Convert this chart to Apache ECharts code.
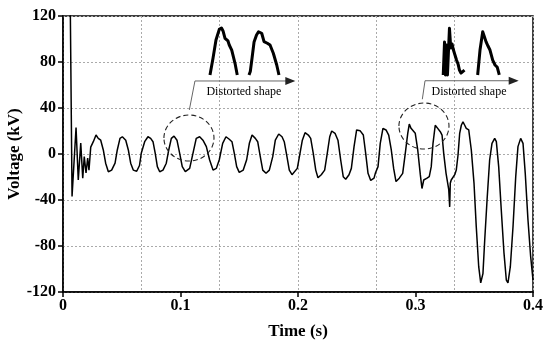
<!DOCTYPE html>
<html>
<head>
<meta charset="utf-8">
<script src="https://cdn.jsdelivr.net/npm/echarts@6/dist/echarts.min.js"></script>
<style>html,body{margin:0;padding:0;background:#fff;}#c{width:550px;height:344px;}</style>
</head>
<body>
<div id="c"></div>
<script>
// Time (s)
const time = [
0.0060, 0.0077, 0.0111, 0.0130, 0.0151, 0.0168, 0.0181, 0.0196, 0.0210, 0.0221, 0.0236, 0.0258, 0.0281, 0.0300, 0.0321, 0.0343, 0.0363, 0.0386, 0.0414, 0.0443, 0.0462, 0.0485, 0.0505, 0.0534, 0.0556, 0.0576, 0.0598, 0.0627, 0.0651,
0.0666, 0.0695, 0.0723, 0.0746, 0.0766, 0.0785, 0.0803, 0.0823, 0.0851, 0.0879, 0.0900, 0.0922, 0.0945, 0.0970, 0.0993, 0.1015, 0.1041, 0.1078, 0.1106, 0.1134, 0.1163, 0.1191, 0.1220, 0.1248, 0.1277, 0.1305,
0.1330, 0.1359, 0.1387, 0.1415, 0.1438, 0.1458, 0.1478, 0.1500, 0.1534, 0.1563, 0.1586, 0.1609, 0.1637, 0.1657, 0.1679, 0.1700, 0.1728, 0.1756, 0.1785, 0.1807, 0.1836, 0.1864, 0.1883, 0.1906, 0.1926, 0.1949,
0.1966, 0.1994, 0.2017, 0.2037, 0.2060, 0.2088, 0.2108, 0.2130, 0.2151, 0.2170, 0.2198, 0.2227, 0.2249, 0.2270, 0.2287, 0.2315, 0.2340, 0.2363, 0.2385, 0.2406, 0.2434, 0.2454, 0.2477, 0.2499, 0.2528, 0.2556, 0.2576, 0.2596, 0.2619, 0.2647,
0.2658, 0.2681, 0.2700, 0.2723, 0.2749, 0.2772, 0.2794, 0.2814, 0.2834, 0.2862, 0.2891, 0.2913, 0.2934, 0.2947, 0.2962, 0.2976, 0.2998, 0.3019, 0.3041, 0.3055, 0.3070, 0.3083, 0.3098, 0.3117, 0.3134, 0.3149, 0.3168, 0.3189, 0.3211, 0.3226, 0.3240, 0.3260, 0.3283, 0.3291, 0.3296,
0.3304, 0.3319, 0.3334, 0.3347, 0.3362, 0.3376, 0.3390, 0.3404, 0.3419, 0.3432, 0.3453, 0.3475, 0.3498, 0.3517, 0.3538, 0.3555, 0.3574, 0.3589, 0.3609, 0.3631, 0.3651, 0.3674, 0.3688, 0.3708, 0.3730, 0.3753, 0.3773, 0.3787, 0.3807, 0.3830, 0.3853, 0.3872, 0.3895, 0.3915, 0.3934, 0.3957, 0.3980, 0.4000
];
// Voltage (kV)
const voltage = [
150, -37, 23, -22.6, 9.5, -21, -2.3, -16.5, -3.5, -14, 6, 10.7, 16.5, 13.6, 12, 3.5, -8, -15.4, -14, -8, 3.5, 13.6, 15, 12, 3.5, -8, -14, -15, -10,
0.6, 10.7, 15, 13.6, 10.7, 0.6, -11, -15.4, -14, -8, 3.5, 13.6, 15.6, 12, 0.6, -11, -15.4, -12.5, 0.6, 13.6, 15, 12, 6.4, -5.2, -14, -12.5,
-5, 9.3, 15, 12.8, 10.7, 0.6, -11, -16, -14, -5, 9.3, 16.5, 13.6, 10.7, -2.3, -14, -16.8, -14, -2.3, 12, 17.4, 15, 10.7, -2.3, -14, -18,
-16.8, -12.5, 0.6, 12, 18.5, 16.5, 13.6, 0.6, -14, -20.6, -18, -14, 0.6, 15, 20, 18, 12, -5, -19.7, -22, -18, -12.5, 6.4, 20.9, 20.3, 16.5, 0.6, -16.8, -23, -21,
-16.8, -11, 9.3, 22.3, 20.9, 16.5, 3.5, -12.5, -24, -21, -16.8, 0.6, 18, 26, 22.3, 23.2, 18, 3.5, -18, -30, -22.6, -24, -21, -19.7, -11, 9.3, 25, 22.3, 19.4, 16.5, 0.6, -16.8, -31, -46, -25.5,
-22.6, -24, -18, -14, -0.9, 18, 25, 28, 25, 22.3, 20.9, 3.5, -25.5, -63, -98, -112, -104, -75, -40, -5.2, 9.3, 13.6, 10.7, -11, -48.7, -86, -109.6, -112, -98, -63, -19.7, 6.4, 13.6, 9.3, -16.8, -57, -89, -109.6
];
// Inset (magnified) shapes, in [time, kV] of the main axes
const inset1a = [[0.1251,68.7],[0.1277,83.5],[0.1302,99.1],[0.1330,108.4],[0.1349,109.6],[0.1362,107.0],[0.1379,100.6],[0.1404,98.3],[0.1415,94.8],[0.1436,90.4],[0.1464,78.9],[0.1483,68.7]];
const inset1b = [[0.1583,68.7],[0.1594,71.7],[0.1609,83.5],[0.1626,97.4],[0.1647,103.5],[0.1664,106.3],[0.1691,105.0],[0.1711,97.7],[0.1739,96.3],[0.1762,94.8],[0.1790,87.6],[0.1819,77.4],[0.1838,68.7]];
const inset2a = [[0.3236,68.7],[0.3247,97.4],[0.3255,68.7],[0.3264,94.8],[0.3272,68.7],[0.3281,90.4],[0.3289,109.3],[0.3300,92.2],[0.3311,95.7],[0.3323,90.4],[0.3336,86.1],[0.3349,81.7],[0.3362,78.3],[0.3374,73.0],[0.3387,70.4],[0.3404,70.4],[0.3417,73.0]];
const inset2b = [[0.3529,68.7],[0.3549,90.4],[0.3572,106.3],[0.3587,101.7],[0.3600,97.7],[0.3617,93.9],[0.3634,90.4],[0.3657,81.7],[0.3677,77.4],[0.3696,75.4],[0.3713,68.7]];
// Annotations in data coordinates
const ellipses = [{c:[0.1072,13.9], r:[0.0213,20]}, {c:[0.3072,24.3], r:[0.0213,20]}];
const arrows = [[[0.1075,38.3],[0.1123,63.5],[0.1960,63.5]], [[0.3058,47.6],[0.3081,63.7],[0.3861,63.7]]];
const labels = [{p:[0.1540,53.9], text:'Distorted shape'}, {p:[0.3455,53.9], text:'Distorted shape'}];
const xTicks = [0, 0.1, 0.2, 0.3, 0.4];
const yTicks = [-120, -80, -40, 0, 40, 80, 120];

const FONT = '"Liberation Serif", "Times New Roman", serif';
const chart = echarts.init(document.getElementById('c'), null, {renderer:'canvas'});
const insetSeries = [inset1a, inset1b, inset2a, inset2b].map(d => ({
  type:'line', data:d, symbol:'none', xAxisIndex:0, yAxisIndex:0, z:5,
  lineStyle:{color:'#000', width:3, join:'round'}, clip:false
}));
chart.setOption({
  animation:false,
  grid:{left:63, right:17, top:16, bottom:52, containLabel:false, outerBoundsMode:'none',
        show:true, borderColor:'#000', borderWidth:1.5, backgroundColor:'transparent'},
  xAxis:[{
    type:'value', min:xTicks[0], max:xTicks[xTicks.length-1], interval:0.1,
    name:'Time (s)', nameLocation:'middle', nameGap:31, nameMoveOverlap:false,
    nameTextStyle:{fontFamily:FONT, fontWeight:'bold', fontSize:17, color:'#000'},
    axisLine:{show:true, onZero:false, lineStyle:{color:'#000', width:1.5}},
    axisTick:{show:true, length:5, lineStyle:{color:'#000', width:1.5}},
    axisLabel:{fontFamily:FONT, fontWeight:'bold', fontSize:16, color:'#000', margin:6},
    splitLine:{show:false}
  },{
    type:'value', min:0, max:6, interval:1, position:'top',
    axisLine:{show:false}, axisTick:{show:false}, axisLabel:{show:false},
    splitLine:{show:true, lineStyle:{color:'#aaa', type:[2,2], width:1}}
  }],
  yAxis:{
    type:'value', min:yTicks[0], max:yTicks[yTicks.length-1], interval:40,
    name:'Voltage (kV)', nameLocation:'middle', nameGap:40, nameMoveOverlap:false,
    nameTextStyle:{fontFamily:FONT, fontWeight:'bold', fontSize:17, color:'#000'},
    axisLine:{show:true, onZero:false, lineStyle:{color:'#000', width:1.5}},
    axisTick:{show:true, length:5, lineStyle:{color:'#000', width:1.5}},
    axisLabel:{fontFamily:FONT, fontWeight:'bold', fontSize:16, color:'#000', margin:7},
    splitLine:{show:true, lineStyle:{color:'#aaa', type:[2,2], width:1}}
  },
  series:[{
    type:'line', data:time.map((t,i)=>[t, voltage[i]]), symbol:'none', clip:true, z:4,
    lineStyle:{color:'#000', width:1.5}
  }].concat(insetSeries)
});

const px = p => chart.convertToPixel({xAxisIndex:0, yAxisIndex:0}, p);
const graphics = [];
ellipses.forEach(e => {
  const c = px(e.c), a = px([e.c[0]+e.r[0], e.c[1]+e.r[1]]);
  graphics.push({type:'ellipse', z:10, shape:{cx:c[0], cy:c[1], rx:Math.abs(a[0]-c[0]), ry:Math.abs(c[1]-a[1])},
    style:{fill:null, stroke:'#222', lineWidth:1.1, lineDash:[5,3]}});
});
arrows.forEach(ar => {
  const pts = ar.map(px);
  graphics.push({type:'polyline', z:10, shape:{points:pts}, style:{stroke:'#666', lineWidth:1, fill:null}});
  const e = pts[pts.length-1];
  graphics.push({type:'polygon', z:10, shape:{points:[[e[0]+2,e[1]],[e[0]-8,e[1]-4],[e[0]-8,e[1]+4]]}, style:{fill:'#222'}});
});
labels.forEach(l => {
  const p = px(l.p);
  graphics.push({type:'text', z:10, x:p[0], y:p[1], style:{text:l.text, font:'12px ' + FONT, fill:'#000', textAlign:'center', textVerticalAlign:'middle'}});
});
chart.setOption({graphic:graphics});
</script>
</body>
</html>
